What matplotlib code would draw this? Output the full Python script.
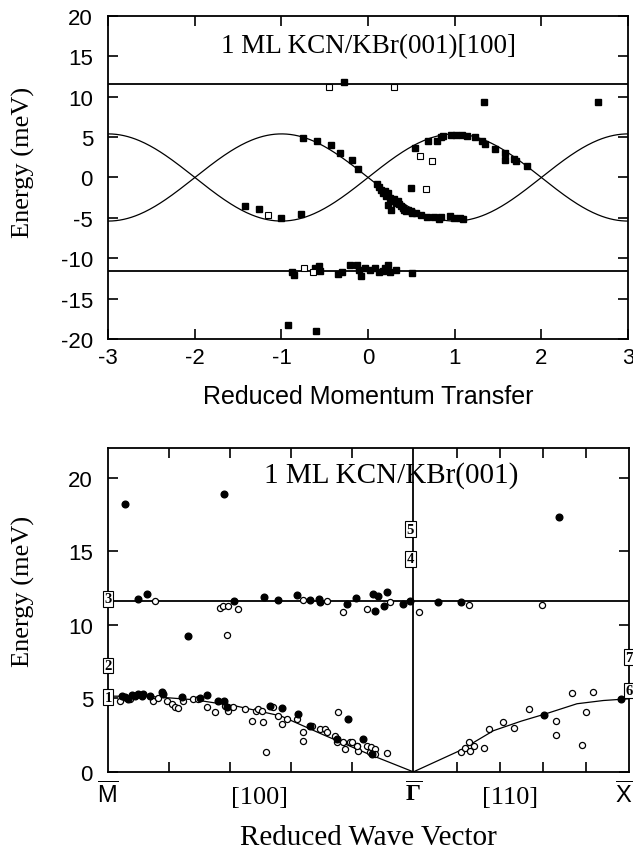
import numpy as np
import matplotlib
matplotlib.use("Agg")
import matplotlib.pyplot as plt

plt.rcParams['font.family'] = ['Liberation Sans', 'DejaVu Sans']
plt.rcParams['axes.unicode_minus'] = False
plt.rcParams['mathtext.fontset'] = 'custom'
plt.rcParams['mathtext.rm'] = 'Liberation Sans'
plt.rcParams['mathtext.bf'] = 'Liberation Serif:bold'

SERIF = ['Liberation Serif', 'DejaVu Serif']

# ---- top panel data: 1 ML KCN/KBr(001)[100] ----
top_fill_x = [-0.75, -0.59, -0.43, -0.32, -0.19, -0.12,
              -1.42, -1.26, -1.01, -0.78,
              0.105, 0.127, 0.148, 0.17, 0.19, 0.21, 0.23, 0.25, 0.27, 0.30, 0.32, 0.34,
              0.36, 0.38, 0.40, 0.42, 0.44, 0.46, 0.49, 0.51, 0.55, 0.61, 0.68, 0.76,
              0.82, 0.84, 0.95, 0.99, 1.06, 1.10, 0.23, 0.27, 0.50,
              0.54, 0.69, 0.80, 0.84, 0.87, 0.96, 1.01, 1.08, 1.14, 1.23, 1.31, 1.35,
              1.46, 1.58, 1.58, 1.69, 1.71, 1.84,
              -0.275, 1.34, 2.66,
              -0.88, -0.86, -0.61, -0.57, -0.56, -0.35, -0.30, -0.21, -0.13, -0.11,
              -0.08, -0.04, 0.02, 0.08, 0.13, 0.17, 0.19, 0.23, 0.25, 0.32, 0.51,
              -0.93, -0.60]
top_fill_y = [4.9, 4.5, 4.0, 3.0, 2.2, 1.1,
              -3.5, -3.9, -5.0, -4.5,
              -0.8, -1.2, -1.5, -1.9, -1.7, -2.3, -1.9, -2.5, -2.9, -2.7, -3.1, -2.9,
              -3.3, -3.5, -3.75, -4.0, -4.2, -4.0, -4.2, -4.4, -4.4, -4.6, -4.9, -4.9,
              -5.2, -4.9, -4.8, -5.0, -5.0, -5.1, -3.4, -4.0, -1.25,
              3.6, 4.5, 4.5, 5.0, 5.2, 5.3, 5.3, 5.3, 5.2, 5.0, 4.5, 4.2,
              3.5, 3.0, 2.2, 2.3, 2.1, 1.4,
              11.8, 9.3, 9.3,
              -11.7, -12.1, -11.25, -11.0, -11.6, -11.9, -11.7, -10.8, -10.9, -11.5,
              -12.2, -11.25, -11.5, -11.25, -11.75, -11.6, -11.25, -10.8, -11.7, -11.5, -11.8,
              -18.25, -19.0]
top_open_x = [-0.45, 0.30, 0.60, 0.74, -1.15, 0.67, -0.74, -0.64]
top_open_y = [11.2, 11.2, 2.7, 2.1, -4.6, -1.4, -11.2, -11.7]

top_band_amp = 5.4      # amplitude of the folded dispersion curves
top_flat_mode = 11.6    # dispersionless mode (+/-)

# ---- bottom panel data: 1 ML KCN/KBr(001), q from M-bar (0) via Gamma to X-bar ----
q_gamma = 1.414
q_x = 2.414

bot_fill_x = [0.077, 0.538, 2.09,
              0.136, 0.178, 0.584, 0.723, 0.788, 0.876, 0.935, 0.978, 0.98, 1.105, 1.147,
              1.229, 1.251, 1.234, 1.276, 1.291, 1.365, 1.399, 1.527, 1.635,
              0.371,
              0.062, 0.078, 0.093, 0.108, 0.124, 0.139, 0.155, 0.162, 0.193, 0.247, 0.255,
              0.340, 0.425, 0.459, 0.510, 0.536, 0.552, 0.750, 0.804, 0.881, 1.113, 1.182,
              1.221, 2.017, 2.375, 0.935, 1.059]
bot_fill_y = [18.2, 18.9, 17.3,
              11.77, 12.1, 11.6, 11.9, 11.65, 12.0, 11.7, 11.77, 11.55, 11.4, 11.8,
              12.1, 11.95, 10.95, 11.27, 12.2, 11.4, 11.63, 11.54, 11.56,
              9.23,
              5.19, 5.08, 4.97, 5.24, 5.15, 5.31, 5.19, 5.31, 5.19, 5.42, 5.31,
              5.08, 5.01, 5.24, 4.79, 4.79, 4.40, 4.51, 4.33, 3.95, 3.61, 2.25,
              1.22, 3.88, 4.97, 3.15, 2.25]
bot_open_x = [0.218, 0.518, 0.533, 0.553, 0.603, 0.901, 1.015, 1.087, 1.198, 1.306,
              1.442, 1.673, 2.008, 0.549,
              0.054, 0.100, 0.209, 0.232, 0.271, 0.294, 0.309, 0.325, 0.348, 0.394,
              0.417, 0.459, 0.495, 0.541, 0.556, 0.580, 0.634, 0.665, 0.685, 0.695,
              0.711, 0.719, 0.731, 0.762, 0.788, 0.804, 0.827, 0.873, 0.904, 0.904,
              0.943, 0.981, 1.004, 1.012, 1.051, 1.066, 1.059, 1.090, 1.097, 1.120,
              1.151, 1.159, 1.198, 1.213, 1.216, 1.236, 1.236, 1.291, 1.128, 1.152,
              1.635, 1.653, 1.676, 1.694, 1.673, 1.741, 1.766, 1.827, 1.881, 1.951,
              2.077, 2.074, 2.147, 2.193, 2.212, 2.246]
bot_open_y = [11.6, 11.15, 11.3, 11.25, 11.1, 11.65, 11.6, 10.9, 11.1, 11.54,
              10.86, 11.32, 11.32, 9.27,
              4.85, 4.97, 4.79, 5.01, 4.85, 4.63, 4.44, 4.33, 4.85, 4.97,
              4.97, 4.40, 4.06, 4.51, 4.17, 4.40, 4.24, 3.49, 4.17, 4.24,
              4.17, 3.42, 1.38, 4.40, 3.83, 3.27, 3.61, 3.56, 2.70, 2.13,
              3.15, 2.92, 2.92, 2.74, 2.47, 4.10, 2.02, 2.02, 1.56, 2.02,
              1.79, 1.45, 1.79, 1.34, 1.68, 1.56, 1.22, 1.27, 2.02, 1.79,
              1.38, 1.65, 1.45, 1.79, 2.02, 1.61, 2.92, 3.42, 2.97, 4.29,
              3.49, 2.54, 5.35, 1.84, 4.10, 5.40]

# dispersion curve
curve_left_q = [0.0, 0.2, 0.4, 0.6, 0.8, 1.0, 1.2, 1.414]
curve_left_e = [5.15, 5.12, 4.9, 4.45, 3.8, 2.5, 1.25, 0.0]
curve_right_q = [1.414, 1.63, 1.785, 1.914, 2.026, 2.172, 2.294, 2.414]
curve_right_e = [0.0, 1.45, 2.8, 3.45, 3.94, 4.63, 4.85, 4.97]

box_labels = ['1', '2', '3', '4', '5', '6', '7']
box_q = [0.0, 0.0, 0.0, 1.40, 1.40, 2.414, 2.414]
box_e = [5.08, 7.23, 11.77, 14.5, 16.5, 5.53, 7.8]

fig = plt.figure(figsize=(6.33, 8.54), dpi=100)
ax1 = fig.add_axes([0.171, 0.602, 0.821, 0.378])
ax2 = fig.add_axes([0.171, 0.095, 0.823, 0.379])

for ax in (ax1, ax2):
    for s in ax.spines.values():
        s.set_linewidth(1.3)
    ax.tick_params(direction='in', top=True, right=True, length=7, width=1.2,
                   labelsize=16, pad=6)
    ax.tick_params(axis='y', pad=11)

# ---- top panel ----
xs = np.linspace(-3, 3, 400)
ax1.plot(xs, top_band_amp * np.sin(np.pi * xs / 2), color='k', lw=0.9)
ax1.plot(xs, -top_band_amp * np.sin(np.pi * xs / 2), color='k', lw=0.9)
ax1.axhline(top_flat_mode, color='k', lw=1.3)
ax1.axhline(-top_flat_mode, color='k', lw=1.3)
ax1.plot(top_fill_x, top_fill_y, 's', ms=4, color='k', mec='k')
ax1.plot(top_open_x, top_open_y, 's', ms=4, mfc='white', mec='k', mew=0.8)
ax1.set_xlim(-3, 3)
ax1.set_ylim(-20, 20)
ax1.set_xticks([-3, -2, -1, 0, 1, 2, 3])
ax1.set_yticks([-20, -15, -10, -5, 0, 5, 10, 15, 20])
ax1.set_xlabel('Reduced Momentum Transfer', fontsize=18)
ax1.xaxis.set_label_coords(0.5, -0.14)
ax1.set_ylabel('Energy (meV)', family=SERIF, fontsize=19)
ax1.yaxis.set_label_coords(-0.14, 0.55)
ax1.text(0.5, 0.91, '1 ML KCN/KBr(001)[100]', transform=ax1.transAxes,
         ha='center', va='center', family=SERIF, fontsize=19.5)

# ---- bottom panel ----
ax2.axhline(11.6, color='k', lw=1.3)
ax2.axvline(q_gamma, color='k', lw=1.3)
ax2.plot(curve_left_q, curve_left_e, color='k', lw=0.9)
ax2.plot(curve_right_q, curve_right_e, color='k', lw=0.9)
ax2.plot(bot_open_x, bot_open_y, 'o', ms=4.4, mfc='white', mec='k', mew=0.9)
ax2.plot(bot_fill_x, bot_fill_y, 'o', ms=4.8, color='k')
for lab, q, e in zip(box_labels, box_q, box_e):
    ax2.text(q, e, lab, ha='center', va='center', family=SERIF, fontsize=10.5,
             fontweight='bold', clip_on=False,
             bbox=dict(boxstyle='square,pad=0.1', fc='white', ec='k', lw=0.8))
ax2.set_xlim(0, q_x)
ax2.set_ylim(0, 22)
ticks = [q_gamma * k / 5 for k in range(1, 5)] + [q_gamma + k / 5 for k in range(1, 5)]
ax2.set_xticks(ticks)
ax2.set_xticklabels([])
ax2.set_yticks([0, 5, 10, 15, 20])
tr = ax2.get_xaxis_transform()
ax2.text(0.0, -0.03, r'$\overline{\rm M}$', transform=tr, ha='center', va='top', fontsize=17)
ax2.text(q_x - 0.025, -0.03, r'$\overline{\rm X}$', transform=tr, ha='center', va='top', fontsize=17)
ax2.text(q_gamma, -0.03, r'$\overline{\mathbf{\Gamma}}$', transform=tr, ha='center', va='top', fontsize=17)
ax2.text(0.70, -0.045, '[100]', transform=tr, ha='center', va='top', family=SERIF, fontsize=19)
ax2.text(1.86, -0.045, '[110]', transform=tr, ha='center', va='top', family=SERIF, fontsize=19)
ax2.set_xlabel('Reduced Wave Vector', family=SERIF, fontsize=21)
ax2.xaxis.set_label_coords(0.5, -0.16)
ax2.set_ylabel('Energy (meV)', family=SERIF, fontsize=19)
ax2.yaxis.set_label_coords(-0.14, 0.56)
ax2.text(0.544, 0.92, '1 ML KCN/KBr(001)', transform=ax2.transAxes,
         ha='center', va='center', family=SERIF, fontsize=21)

fig.savefig('out.png', dpi=100)
